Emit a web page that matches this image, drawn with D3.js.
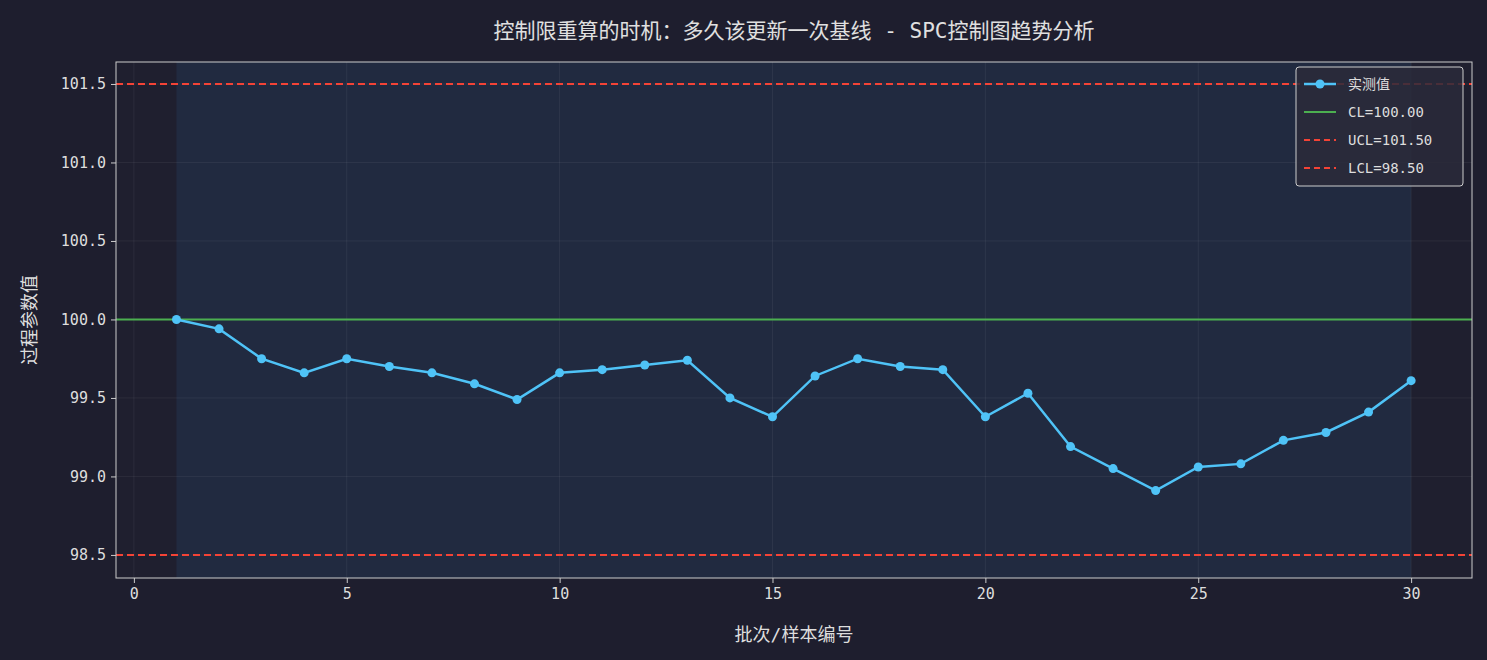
<!DOCTYPE html>
<html><head><meta charset="utf-8">
<script src="https://cdn.jsdelivr.net/npm/d3@7"></script>
<style>
body{margin:0;background:#1e1e2e;}
text{font-family:"DejaVu Sans Mono","Noto Sans CJK SC",monospace;}
</style></head>
<body><svg id="chart" width="1487" height="660"></svg>
<script>
// data
const batches = d3.range(1, 31);
const values = [100.00, 99.94, 99.75, 99.66, 99.75, 99.70, 99.66, 99.59, 99.49, 99.66,
  99.68, 99.71, 99.74, 99.50, 99.38, 99.64, 99.75, 99.70, 99.68, 99.38,
  99.53, 99.19, 99.05, 98.91, 99.06, 99.08, 99.23, 99.28, 99.41, 99.61];
const CL = 100.0, UCL = 101.5, LCL = 98.5;
const xTicks = [0, 5, 10, 15, 20, 25, 30];
const yTicks = [98.5, 99.0, 99.5, 100.0, 100.5, 101.0, 101.5];

const margin = {top: 62, right: 15, bottom: 82, left: 116};
const width = 1487 - margin.left - margin.right,
      height = 660 - margin.top - margin.bottom;

const svg = d3.select("#chart");
const g = svg.append("g").attr("transform", "translate(" + margin.left + "," + margin.top + ")");

const x = d3.scaleLinear().domain([-0.42, 31.43]).range([0, width]);
const y = d3.scaleLinear().domain([98.353, 101.64]).range([height, 0]);

g.append("rect").attr("width", width).attr("height", height).attr("fill", "#1f1f2f");
// baseline window shading
g.append("rect").attr("x", x(1)).attr("width", x(30) - x(1)).attr("height", height)
  .attr("fill", "#212a40");

// grid
g.selectAll(".gx").data(xTicks).enter().append("line")
  .attr("x1", d => x(d)).attr("x2", d => x(d)).attr("y1", 0).attr("y2", height)
  .attr("stroke", "#ffffff").attr("stroke-opacity", 0.06);
g.selectAll(".gy").data(yTicks).enter().append("line")
  .attr("y1", d => y(d)).attr("y2", d => y(d)).attr("x1", 0).attr("x2", width)
  .attr("stroke", "#ffffff").attr("stroke-opacity", 0.06);

// limits
g.append("line").attr("x1", 0).attr("x2", width).attr("y1", y(CL)).attr("y2", y(CL))
  .attr("stroke", "#4caf50").attr("stroke-width", 2);
[UCL, LCL].forEach(v => g.append("line").attr("x1", 0).attr("x2", width)
  .attr("y1", y(v)).attr("y2", y(v)).attr("stroke", "#f44336").attr("stroke-width", 2)
  .attr("stroke-dasharray", "7,4"));

// series
const line = d3.line().x((d, i) => x(batches[i])).y(d => y(d));
g.append("path").datum(values).attr("d", line).attr("fill", "none")
  .attr("stroke", "#4fc3f7").attr("stroke-width", 2.5);
g.selectAll(".pt").data(values).enter().append("circle")
  .attr("cx", (d, i) => x(batches[i])).attr("cy", d => y(d)).attr("r", 4.5).attr("fill", "#4fc3f7");

// frame
g.append("rect").attr("width", width).attr("height", height).attr("fill", "none")
  .attr("stroke", "#cccccc").attr("stroke-width", 1);

// axes
const xa = g.append("g").attr("transform", "translate(0," + height + ")")
  .call(d3.axisBottom(x).tickValues(xTicks).tickSize(5).tickPadding(5));
const ya = g.append("g").call(d3.axisLeft(y).tickValues(yTicks).tickFormat(d3.format(".1f")).tickSize(5).tickPadding(5));
[xa, ya].forEach(a => {
  a.select(".domain").remove();
  a.selectAll("line").attr("stroke", "#cccccc");
  a.selectAll("text").attr("fill", "#dddddd").style("font-size", "15px");
});

svg.append("text").attr("x", 794).attr("y", 38).attr("text-anchor", "middle")
  .attr("fill", "#e0e0e0").style("font-size", "21px")
  .text("控制限重算的时机：多久该更新一次基线 - SPC控制图趋势分析");
svg.append("text").attr("x", 794).attr("y", 641).attr("text-anchor", "middle")
  .attr("fill", "#dddddd").style("font-size", "18px").text("批次/样本编号");
svg.append("text").attr("transform", "translate(36," + (margin.top + height / 2) + ") rotate(-90)")
  .attr("text-anchor", "middle").attr("fill", "#dddddd").style("font-size", "18px").text("过程参数值");

// legend
const legend = [
  {label: "实测值", color: "#4fc3f7", dash: null, dot: true, w: 2.5},
  {label: "CL=100.00", color: "#4caf50", dash: null, dot: false, w: 2},
  {label: "UCL=101.50", color: "#f44336", dash: "6,4", dot: false, w: 2},
  {label: "LCL=98.50", color: "#f44336", dash: "6,4", dot: false, w: 2}
];
const lg = svg.append("g").attr("transform", "translate(1296,67)");
lg.append("rect").attr("width", 167).attr("height", 119).attr("rx", 3)
  .attr("fill", "#2a2a3a").attr("fill-opacity", 0.85).attr("stroke", "#cccccc");
legend.forEach((d, i) => {
  const yy = 17 + i * 28;
  lg.append("line").attr("x1", 8).attr("x2", 40).attr("y1", yy).attr("y2", yy)
    .attr("stroke", d.color).attr("stroke-width", d.w).attr("stroke-dasharray", d.dash);
  if (d.dot) lg.append("circle").attr("cx", 24).attr("cy", yy).attr("r", 4.5).attr("fill", d.color);
  lg.append("text").attr("x", 52).attr("y", yy + 5).attr("fill", "#dddddd")
    .style("font-size", "14px").text(d.label);
});
</script></body></html>
